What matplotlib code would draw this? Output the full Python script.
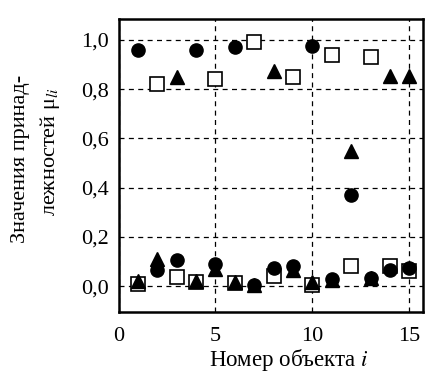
import matplotlib
matplotlib.use("Agg")
import matplotlib.pyplot as plt
from matplotlib.ticker import FuncFormatter

# membership values of 15 objects in three classes
objects = list(range(1, 16))
mu_circle = [0.96, 0.065, 0.108, 0.96, 0.09, 0.97, 0.005, 0.075, 0.08, 0.975,
             0.03, 0.37, 0.035, 0.065, 0.075]
mu_square = [0.01, 0.82, 0.038, 0.017, 0.84, 0.013, 0.99, 0.04, 0.85, 0.004,
             0.94, 0.08, 0.93, 0.08, 0.06]
mu_triangle = [0.02, 0.11, 0.85, 0.02, 0.07, 0.015, 0.005, 0.875, 0.065, 0.015,
               0.025, 0.55, 0.035, 0.855, 0.855]

x_ticks = [0, 5, 10, 15]
y_ticks = [0.0, 0.2, 0.4, 0.6, 0.8, 1.0]

plt.rcParams['font.family'] = ['Liberation Serif', 'DejaVu Serif']
plt.rcParams['mathtext.fontset'] = 'stix'

W, H = 433, 376
fig = plt.figure(figsize=(W / 100, H / 100), dpi=100)
ax = fig.add_axes([118.5 / W, 1 - 312 / H, (423 - 118.5) / W, (312 - 19) / H])

ax.plot(objects, mu_square, 's', ms=9.5, mfc='white', mec='black', mew=1.2,
        linestyle='none', zorder=3)
ax.plot(objects, mu_circle, 'o', ms=9.5, color='black', linestyle='none', zorder=4)
ax.plot(objects, mu_triangle, '^', ms=9.5, color='black', linestyle='none', zorder=5)

ax.set_xlim(0, 15.7)
ax.set_ylim(-0.105, 1.085)
ax.set_xticks(x_ticks)
ax.set_yticks(y_ticks)
ax.yaxis.set_major_formatter(FuncFormatter(lambda v, p: f"{v:.1f}".replace('.', ',')))
ax.tick_params(length=0, labelsize=16)
ax.tick_params(axis='y', pad=7)
ax.tick_params(axis='x', pad=11)

ax.grid(True, color='black', linewidth=0.9, linestyle=(0, (4, 3.5)))
ax.set_axisbelow(True)
for s in ax.spines.values():
    s.set_linewidth(1.8)

# axis titles placed by their baselines
fig.text(288.5 / W, 1 - 366 / H, "Номер объекта $i$", fontsize=16.5,
         ha='center', va='baseline')
fig.text(25 / W, 1 - 158.5 / H, "Значения принад-", fontsize=16, rotation=90,
         rotation_mode='anchor', ha='center', va='baseline')
fig.text(55 / W, 1 - 151.5 / H, "лежностей μ$_{li}$", fontsize=16, rotation=90,
         rotation_mode='anchor', ha='center', va='baseline')

fig.savefig("out.png", dpi=100)
